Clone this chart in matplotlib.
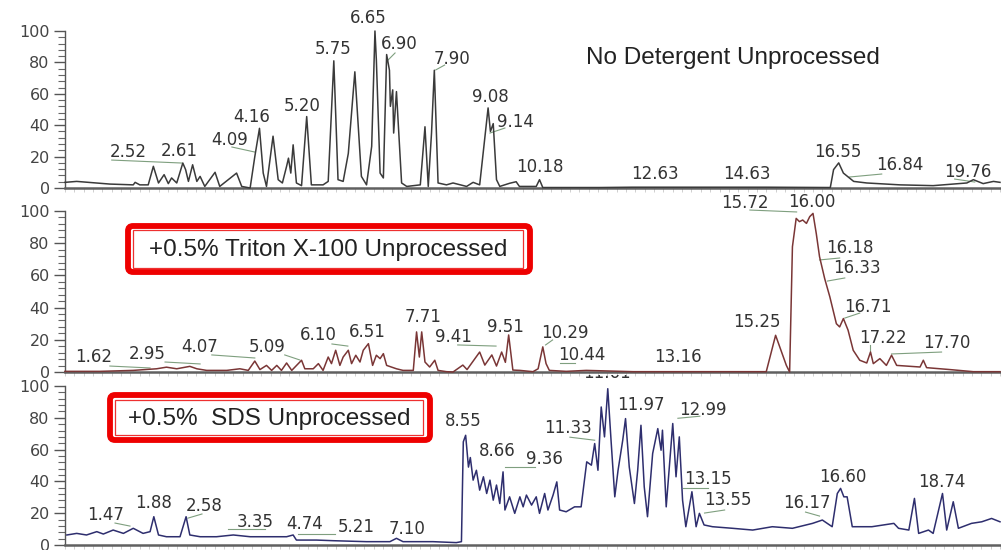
import numpy as np
import matplotlib
matplotlib.use("Agg")
import matplotlib.pyplot as plt
from matplotlib.patches import FancyBboxPatch, Rectangle
from matplotlib.ticker import MultipleLocator
from matplotlib.transforms import Bbox, TransformedBbox

# ---- data (time in min, relative abundance %) ----
t_none = [0, 0.25, 0.96, 1.46, 1.5, 1.6, 1.78, 1.89, 2.0, 2.12, 2.21, 2.28, 2.39, 2.52, 2.58, 2.64,
          2.73, 2.82, 2.89, 2.99, 3.21, 3.31, 3.67, 3.78, 3.96, 4.06, 4.16, 4.24, 4.31, 4.45, 4.56,
          4.65, 4.74, 4.78, 4.83, 4.88, 4.95, 5.06, 5.17, 5.27, 5.52, 5.63, 5.75, 5.84, 5.95, 6.06,
          6.2, 6.34, 6.45, 6.56, 6.63, 6.66, 6.74, 6.81, 6.88, 6.94, 6.96, 7.01, 7.03, 7.09, 7.2,
          7.31, 7.6, 7.7, 7.77, 7.84, 7.9, 7.98, 8.16, 8.3, 8.59, 8.73, 8.87, 9.05, 9.1, 9.16, 9.23,
          9.3, 9.51, 9.65, 9.72, 10.08, 10.15, 10.22, 11.43, 12.14, 13.6, 15.0, 16.37, 16.44, 16.55,
          16.65, 16.87, 17.15, 17.86, 18.57, 19.29, 19.43, 19.64, 19.86, 20]
y_none = [3.6, 4.2, 2.5, 2, 3.6, 2, 2, 13.8, 3.2, 8.5, 2.8, 6.4, 3.2, 15.9, 11.7, 4.2,
          14.8, 4.2, 7.4, 1, 10, 1, 9.5, 1, 0, 20, 38, 9.5, 1, 33, 5.3,
          3.2, 13.8, 19, 9.5, 27.5, 3.2, 1.5, 45.5, 2, 2, 4.2, 81, 5.3, 4.2, 22,
          74, 7.4, 2, 26.5, 100, 81.6, 9.5, 6.4, 85, 75, 52, 62.5, 35, 61.4, 3.2,
          1, 2, 39, 1, 35, 75, 3.2, 2, 3.2, 1, 3.6, 2, 51, 36, 41, 5.3,
          1, 3, 4, 1, 1, 5.3, 0.3, 0.3, 0.5, 0.5, 0.5, 0.3, 11.7, 16,
          9.5, 4.2, 3.2, 2, 1.5, 3.2, 5.3, 2.8, 4.2, 3.6]

t_triton = [0, 0.75, 1.46, 1.96, 2.17, 2.39, 2.67, 2.82, 3.03, 3.46, 3.74, 3.92, 4.06, 4.17, 4.31,
            4.42, 4.53, 4.63, 4.74, 4.85, 5.06, 5.13, 5.31, 5.42, 5.52, 5.63, 5.7, 5.79, 5.88, 5.95,
            6.06, 6.13, 6.22, 6.31, 6.38, 6.49, 6.58, 6.66, 6.74, 6.81, 6.88, 7.09, 7.23, 7.45, 7.52,
            7.58, 7.63, 7.7, 7.8, 7.91, 7.98, 8.16, 8.3, 8.51, 8.6, 8.87, 8.98, 9.13, 9.23, 9.34,
            9.42, 9.49, 9.58, 9.73, 10.01, 10.12, 10.22, 10.29, 10.36, 10.72, 11.15, 12.15, 13.57,
            15.0, 15.2, 15.43, 15.5, 15.56, 15.64, 15.71, 15.78, 15.86, 15.93, 16.0, 16.07, 16.14,
            16.25, 16.36, 16.5, 16.57, 16.65, 16.75, 16.86, 17.0, 17.15, 17.23, 17.29, 17.43, 17.57,
            17.68, 17.79, 18.29, 18.36, 18.43, 18.93, 19.43, 20]
y_triton = [0.4, 0.4, 1, 2, 3, 2, 3.5, 2, 1, 1, 2, 1, 6.8, 1.5, 4.1,
            1, 4.1, 1, 5.6, 1, 7.3, 2, 2, 5.2, 1, 9.3, 5.2, 13.5, 4.1, 9.3,
            13.5, 5.2, 10.4, 6.2, 13.5, 17.6, 4.1, 10.4, 8.3, 11.4, 4.1, 2, 1, 1, 24.9,
            9.3, 24.9, 6.2, 3.1, 7.3, 1, 0.2, 0, 4.3, 1.5, 12.4, 4.3, 10.6, 3.7, 12.4,
            6, 23, 1.2, 1, 0.2, 2, 15.6, 5.2, 1, 0.4, 1, 0.2, 0.2,
            0.2, 22.8, 4.1, 0, 77.8, 95.4, 93.4, 94.4, 92.3, 96.5, 98.5, 86, 71.6,
            58, 46.7, 30, 28, 33.2, 26, 13.5, 7.3, 5.6, 12.4, 5.2, 8.3, 4.1,
            10.4, 4.1, 3.1, 7.3, 2.7, 1.5, 0.2, 0.2]

t_sds = [0.04, 0.25, 0.46, 0.68, 0.82, 1.03, 1.25, 1.46, 1.67, 1.82, 1.9, 2.0, 2.17, 2.46, 2.59,
         2.67, 2.89, 3.24, 3.6, 3.96, 4.31, 4.74, 4.88, 4.95, 5.38, 5.74, 6.45, 6.95, 7.09, 7.23,
         7.87, 8.37, 8.48, 8.52, 8.57, 8.63, 8.67, 8.73, 8.8, 8.87, 8.95, 9.02, 9.09, 9.16, 9.23,
         9.3, 9.37, 9.41, 9.51, 9.62, 9.73, 9.8, 9.87, 9.98, 10.08, 10.15, 10.26, 10.33, 10.44,
         10.52, 10.58, 10.72, 10.9, 11.04, 11.16, 11.26, 11.33, 11.4, 11.47, 11.54, 11.61, 11.68,
         11.76, 11.83, 11.93, 11.99, 12.07, 12.18, 12.25, 12.32, 12.39, 12.46, 12.57, 12.68, 12.75,
         12.78, 12.86, 13.0, 13.07, 13.14, 13.21, 13.28, 13.41, 13.5, 13.57, 13.67, 13.85, 14.28,
         14.71, 15.13, 15.56, 15.99, 16.2, 16.41, 16.52, 16.59, 16.66, 16.73, 16.84, 17.26, 17.73,
         17.83, 18.05, 18.17, 18.26, 18.47, 18.57, 18.77, 18.86, 19.0, 19.11, 19.39, 19.61, 19.82, 20]
y_sds = [6.3, 7.3, 6.3, 8.4, 6.9, 9.4, 7.3, 10.5, 7.3, 8.4, 17.8, 6.3, 5.2, 5.2, 17.8,
         6.3, 5.2, 5.2, 6.3, 5.2, 5.2, 5.2, 6.3, 3.1, 3.1, 2.7, 2.1, 2.1, 4.2, 2.1,
         2.1, 1.5, 2.1, 64.9, 69, 49, 55, 40.8, 47, 34.5, 42.9, 32.4, 40.8, 28.2, 37.7,
         26.1, 46, 22, 30.3, 19.9, 30.3, 24, 31.4, 25.1, 30.3, 19.9, 32.4, 22, 31.4,
         39.7, 22, 20.9, 24, 24, 52.3, 50.2, 63.8, 47, 86.8, 68, 98.3, 65.9,
         30.3, 47, 65.9, 79.5, 49, 26.1, 47, 75.3, 36.6, 17.8, 57.5, 73.2, 59.6,
         72.2, 24, 76.4, 42.9, 68, 28.2, 11.5, 33.5, 11.5, 19.9, 12.6, 11.5, 10.5,
         9.4, 11.5, 10.5, 13.6, 15.7, 11.5, 32.4, 35.6, 30.3, 30.3, 11.5, 11.5, 13.6,
         10.5, 9.4, 29.3, 7.3, 9.4, 7.3, 32.4, 9.4, 27.2, 10.5, 13.6, 14.6, 16.7, 14.6]

# peak labels: (text, time, abundance) of label centre
labels_none = [("2.52", 1.35, 22.9), ("2.61", 2.44, 23.6), ("4.09", 3.53, 30.6), ("4.16", 4.0, 45.2),
               ("5.20", 5.07, 52.2), ("5.75", 5.73, 88.5), ("6.65", 6.48, 108.3), ("6.90", 7.16, 91.7),
               ("7.90", 8.27, 82.2), ("9.08", 9.09, 58), ("9.14", 9.64, 42), ("10.18", 10.16, 13.4),
               ("12.63", 12.61, 8.9), ("14.63", 14.58, 8.9), ("16.55", 16.53, 22.9),
               ("16.84", 17.85, 14.6), ("19.76", 19.31, 10.2)]
labels_triton = [("1.62", 0.62, 9.3), ("2.95", 1.75, 11.2), ("4.07", 2.87, 15.5), ("5.09", 4.32, 15.5),
                 ("6.10", 5.41, 23), ("6.51", 6.46, 24.8), ("7.71", 7.65, 34.2), ("9.41", 8.3, 21.7),
                 ("9.51", 9.43, 28), ("10.29", 10.69, 24.2), ("10.44", 11.05, 10.6), ("13.16", 13.11, 9.3),
                 ("15.25", 14.8, 31), ("15.72", 14.54, 105), ("16.00", 15.97, 105.6), ("16.18", 16.78, 77),
                 ("16.33", 16.93, 64.6), ("16.71", 17.17, 40.4), ("17.22", 17.49, 21.1), ("17.70", 18.86, 18)]
labels_sds = [("1.47", 0.86, 18.8), ("1.88", 1.9, 26.4), ("2.58", 2.97, 24.5), ("3.35", 4.06, 14.4),
              ("4.74", 5.13, 13.2), ("5.21", 6.24, 11.3), ("7.10", 7.31, 10), ("8.55", 8.51, 77.8),
              ("8.66", 9.24, 59), ("9.36", 10.26, 54), ("11.33", 10.75, 73.4), ("11.61", 11.59, 108),
              ("11.97", 12.32, 87.9), ("12.99", 13.64, 84.7), ("13.15", 13.75, 41.4), ("13.55", 14.18, 28.2),
              ("16.17", 15.86, 26.4), ("16.60", 16.63, 42.7), ("18.74", 18.75, 39.5)]

# leader lines (t0, y0, t1, y1)
leaders_none = [(1.0, 17.8, 2.5, 15.9), (3.57, 26.1, 4.06, 22.9), (7.06, 86, 6.91, 81.5),
                (8.12, 78.3, 7.93, 75.2), (9.41, 38.2, 9.09, 35), (17.47, 8.9, 16.78, 7),
                (19.03, 5.7, 19.46, 3.8)]
leaders_triton = [(0.96, 3.7, 1.82, 2.5), (2.14, 6.2, 2.89, 5), (3.14, 10.6, 4.06, 8.7),
                  (4.7, 10.6, 5.02, 7.5), (5.71, 17.4, 6.05, 16.1), (8.4, 16.8, 9.22, 16.1),
                  (10.43, 19.9, 10.28, 16.8), (10.58, 5.6, 10.9, 5.6), (14.65, 100.6, 15.65, 99.4),
                  (16.57, 70.8, 16.14, 69.6), (16.68, 58.4, 16.31, 56.5), (17.0, 36.6, 16.68, 33.5),
                  (17.21, 16.8, 17.21, 11.8), (18.75, 12.4, 17.68, 11.2)]
leaders_sds = [(1.07, 13.8, 1.39, 11.9), (2.93, 19.5, 2.63, 16.9), (3.49, 10, 4.28, 10),
               (4.98, 6.9, 5.77, 6.9), (9.41, 49, 10.05, 49), (10.8, 67.8, 11.33, 65.9),
               (13.11, 79.7, 13.58, 81), (13.21, 35.8, 13.75, 35.8), (13.68, 20.1, 14.11, 22),
               (15.84, 20.7, 16.14, 18.2)]

W, H = 1001, 550
fig = plt.figure(figsize=(W / 100, H / 100), dpi=100)
fig.patch.set_facecolor("white")

# panel extents in pixels: (y of 100%, y of 0%)
panels = [
    (31, 188, t_none, y_none, "#3a3a3a", labels_none, leaders_none),
    (211, 372, t_triton, y_triton, "#7a3636", labels_triton, leaders_triton),
    (386, 545, t_sds, y_sds, "#2e2e6e", labels_sds, leaders_sds),
]
x_left, x_right = 65, 1000

axes = []
for i, (ptop, pbot, tt, yy, col, labs, leads) in enumerate(panels):
    ax = fig.add_axes([x_left / W, 1 - pbot / H, (x_right - x_left) / W, (pbot - ptop) / H])
    ax.set_xlim(0, 20)
    ax.set_ylim(0, 100)
    ax.patch.set_alpha(0)
    ax.plot(tt, yy, color=col, lw=1.1, clip_on=False, zorder=3)
    for s in ["top", "right"]:
        ax.spines[s].set_visible(False)
    ax.spines["left"].set_color("#555555")
    ax.spines["left"].set_linewidth(1.0)
    ax.spines["bottom"].set_color("#606060")
    ax.spines["bottom"].set_linewidth(1.8)
    ax.yaxis.set_major_locator(MultipleLocator(20))
    ax.yaxis.set_minor_locator(MultipleLocator(4))
    ax.tick_params(axis="y", which="major", direction="out", length=8, width=1, color="#555555",
                   labelsize=11.5, labelcolor="#444444", pad=3)
    ax.tick_params(axis="y", which="minor", direction="out", length=5, width=0.8, color="#666666")
    ax.xaxis.set_major_locator(MultipleLocator(1))
    ax.xaxis.set_minor_locator(MultipleLocator(0.2))
    ax.tick_params(axis="x", which="both", direction="out", length=3, width=0.6,
                   color="#c8c8c8", labelbottom=False)
    for lab, tx, ty in labs:
        txt = ax.text(tx, ty, lab, ha="center", va="center", fontsize=12, color="#333333",
                      family="DejaVu Sans", clip_on=False, zorder=4)
        if lab == "11.61":
            cb = Bbox.from_extents(0, 0, 1, 1 - 375 / H)
            txt.set_clip_box(TransformedBbox(cb, fig.transFigure))
            txt.set_clip_on(True)
    for t0, y0, t1, y1 in leads:
        ax.plot([t0, t1], [y0, y1], color="#7f9f7f", lw=0.8, clip_on=False, zorder=2)
    axes.append(ax)

axes[0].text(14.28, 82.8, "No Detergent Unprocessed", ha="center", va="center",
             fontsize=17.5, family="Liberation Sans", color="#222222")

# overlay in pixel coordinates for the highlighted captions
ov = fig.add_axes([0, 0, 1, 1], zorder=5)
ov.set_xlim(0, W)
ov.set_ylim(H, 0)
ov.axis("off")
ov.patch.set_alpha(0)

boxes = [
    ((125, 223, 533, 275), (133, 230, 523, 268), "+0.5% Triton X-100 Unprocessed"),
    ((107, 392, 433, 443), (115, 400, 423, 435), "+0.5%  SDS Unprocessed"),
]
for (ox0, oy0, ox1, oy1), (ix0, iy0, ix1, iy1), caption in boxes:
    ov.add_patch(FancyBboxPatch((ox0 + 3, oy0 + 3), ox1 - ox0 - 6, oy1 - oy0 - 6,
                                boxstyle="round,pad=0,rounding_size=5",
                                facecolor="white", edgecolor="#ee0000", lw=4.2))
    ov.add_patch(Rectangle((ix0, iy0), ix1 - ix0, iy1 - iy0, facecolor="none",
                           edgecolor="#ee3030", lw=0.9))
    ov.text((ix0 + ix1) / 2, (iy0 + iy1) / 2 + 1, caption, ha="center", va="center",
            fontsize=17.5, family="Liberation Sans", color="#222222")

fig.savefig("out.png", dpi=100)
